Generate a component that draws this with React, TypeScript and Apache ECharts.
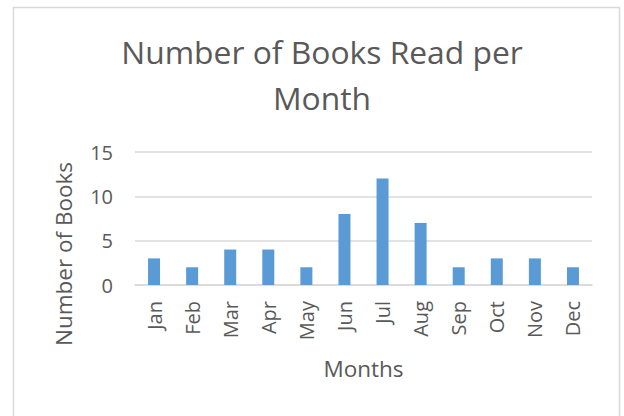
import React, { useEffect, useRef } from "react";
import * as echarts from "echarts";

const months = ["Jan", "Feb", "Mar", "Apr", "May", "Jun", "Jul", "Aug", "Sep", "Oct", "Nov", "Dec"];
const booksRead = [3, 2, 4, 4, 2, 8, 12, 7, 2, 3, 3, 2];
const titleText = "Number of Books Read per\nMonth";
const xAxisName = "Months";
const yAxisName = "Number of Books";

const FONT = "'Open Sans', sans-serif";
const TEXT = "#595959";

export default function App() {
  const ref = useRef<HTMLDivElement>(null);
  useEffect(() => {
    if (!ref.current) return;
    const chart = echarts.init(ref.current, null, { renderer: "svg" });
    chart.setOption({
      animation: false,
      backgroundColor: "#ffffff",
      title: {
        text: titleText,
        left: 317,
        top: 23,
        textAlign: "center",
        textStyle: {
          fontFamily: FONT,
          fontSize: 31.8,
          fontWeight: "normal",
          color: TEXT,
          lineHeight: 46,
        },
      },
      graphic: [
        {
          type: "rect",
          shape: { x: 13.5, y: 7.5, width: 606, height: 430 },
          style: { fill: "none", stroke: "#D9D9D9", lineWidth: 1.5 },
          silent: true,
          z: 100,
        },
      ],
      grid: { left: 135, right: 32, top: 152, bottom: 131, containLabel: false },
      xAxis: {
        type: "category",
        data: months,
        name: xAxisName,
        nameLocation: "middle",
        nameGap: 72,
        nameTextStyle: { fontFamily: FONT, fontSize: 22.5, color: TEXT },
        axisLine: { show: true, lineStyle: { color: "#D9D9D9", width: 1.5 } },
        axisTick: { show: false },
        axisLabel: {
          rotate: 90,
          margin: 16,
          fontFamily: FONT,
          fontSize: 20,
          color: TEXT,
          interval: 0,
        },
      },
      yAxis: {
        type: "value",
        min: 0,
        max: 15,
        interval: 5,
        name: yAxisName,
        nameLocation: "middle",
        nameRotate: 90,
        nameGap: 60,
        nameTextStyle: { fontFamily: FONT, fontSize: 22.5, color: TEXT, padding: [0, 71, 0, 0] },
        axisLine: { show: false },
        axisTick: { show: false },
        axisLabel: { margin: 22, fontFamily: FONT, fontSize: 20, color: TEXT },
        splitLine: { show: true, lineStyle: { color: "#D9D9D9", width: 1.5 } },
      },
      series: [
        {
          type: "bar",
          data: booksRead,
          barWidth: 12,
          itemStyle: { color: "#5B9BD5" },
        },
      ],
    });
    return () => chart.dispose();
  }, []);
  return (
    <div
      ref={ref}
      style={{ position: "fixed", left: 0, top: 0, width: 624, height: 416 }}
    />
  );
}
